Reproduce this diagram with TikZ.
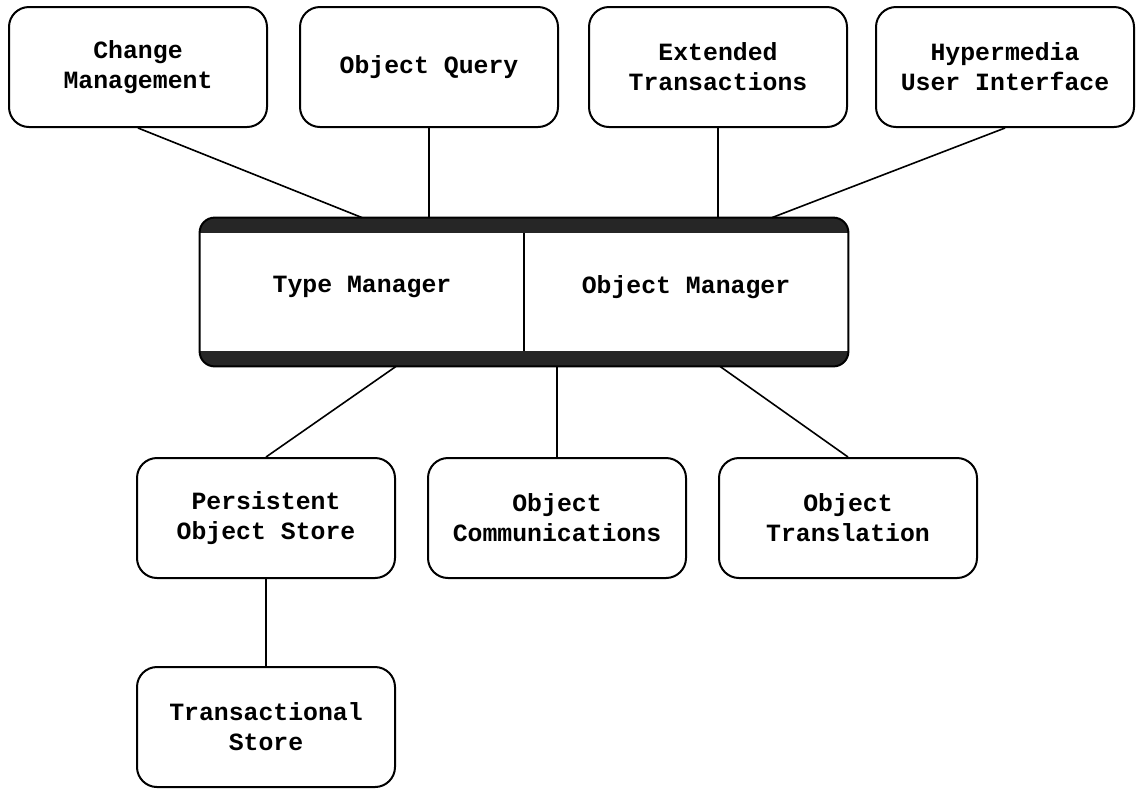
\documentclass[tikz,border=0pt]{standalone}
\usepackage{fontspec}
\setmonofont{Liberation Mono}
\usetikzlibrary{backgrounds}
\definecolor{bandgray}{HTML}{262626}

\begin{document}
\begin{tikzpicture}[x=0.5pt, y=-0.5pt, inner sep=1mm,
  box/.style={draw, line width=1pt, rounded corners=10pt, minimum width=129pt,
    minimum height=60pt, align=center,
    font=\ttfamily\bfseries\fontsize{12.4}{15}\selectfont},
  core/.style={minimum width=162pt, minimum height=74pt, text depth=7.5pt,
    font=\ttfamily\bfseries\fontsize{12.4}{15}\selectfont},
  link/.style={line width=0.8pt}]
\useasboundingbox (0,0) rectangle (1138,789);

% upper row
\node (cm) at (138,67) [box] {Change\\Management};
\node (oq) at (429,67) [box] {Object Query};
\node (ext) at (718,67) [box] {Extended\\Transactions};
\node (hyp) at (1005,67) [box] {Hypermedia\\User Interface};

% kernel
\node (tm) at (362,292) [core] {Type Manager};
\node (om) at (686,292) [core] {Object Manager};
\begin{scope}[on background layer]
\fill[bandgray, rounded corners=7.5pt] (tm.north west) rectangle (om.south east);
\fill[white] ([yshift=-7.5pt]tm.north west) rectangle ([yshift=7.5pt]om.south east);
\draw[line width=1pt, rounded corners=7.5pt] (tm.north west) rectangle (om.south east);
\draw[line width=1pt] ([yshift=-7.5pt]tm.north east) -- ([yshift=7.5pt]tm.south east);
\end{scope}

% lower rows
\node (pos) at (266,518) [box] {Persistent\\Object Store};
\node (comm) at (557,518) [box] {Object\\Communications};
\node (trl) at (848,518) [box] {Object\\Translation};
\node (ts) at (266,727) [box] {Transactional\\Store};

\draw[link] (cm.south) -- (tm.north);
\draw[link] (oq.south) -- (oq.south |- tm.north);
\draw[link] (ext.south) -- (ext.south |- om.north);
\draw[link] (hyp.south) -- ([xshift=43pt]om.north);
\draw[link] ([xshift=17pt]tm.south) -- (pos.north);
\draw[link] (comm.north |- om.south) -- (comm.north);
\draw[link] ([xshift=17pt]om.south) -- (trl.north);
\draw[link] (pos.south) -- (ts.north);
\end{tikzpicture}
\end{document}
